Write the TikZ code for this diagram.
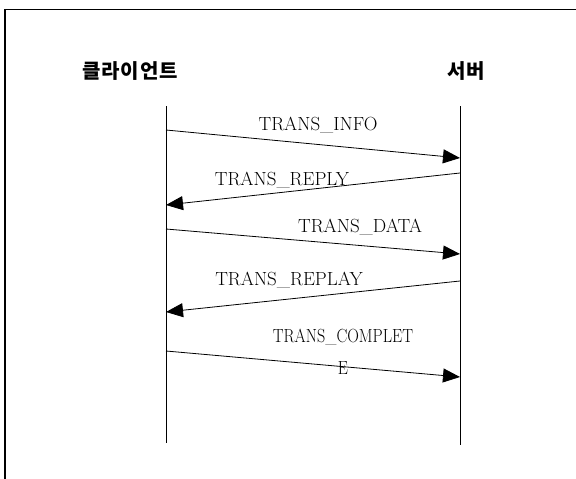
\documentclass[tikz,border=0pt]{standalone}
\usepackage{fontspec}
\newfontfamily\krfont{Noto Sans CJK KR}[LetterSpace=5]
\usetikzlibrary{arrows.meta,positioning}

\begin{document}
\begin{tikzpicture}[
    x=1pt, y=-1pt,
    party/.style={font=\krfont\bfseries\fontsize{20}{24}\selectfont, inner sep=0pt},
    msglabel/.style={font=\fontsize{19}{22}\selectfont, inner sep=0pt},
    life/.style={line width=0.8pt},
    msg/.style={line width=0.8pt, -{Triangle[length=17pt,width=14pt]}},
]
\useasboundingbox (0,0) rectangle (576,479);

% frame (cut at right and bottom)
\draw[line width=1.2pt] (5,479) -- (5,9.5) -- (576,9.5);

% parties
\node[party] (client) at (130,71) {클라이언트};
\node[party] (server) at (466,71) {서버};

% lifelines
\coordinate (ctop) at (166,106);
\coordinate (cbot) at (166,443);
\coordinate (stop) at (460,106);
\coordinate (sbot) at (460,445);
\draw[life] (ctop) -- (cbot);
\draw[life] (stop) -- (sbot);

% message end points
\coordinate (c1) at (166,130); \coordinate (s1) at (460,158);
\coordinate (s2) at (460,173); \coordinate (c2) at (166,205);
\coordinate (c3) at (166,229); \coordinate (s3) at (460,254);
\coordinate (s4) at (460,281); \coordinate (c4) at (166,312);
\coordinate (c5) at (166,351); \coordinate (s5) at (460,377);

% messages
\draw[msg] (c1) -- (s1);
\draw[msg] (s2) -- (c2);
\draw[msg] (c3) -- (s3);
\draw[msg] (s4) -- (c4);
\draw[msg] (c5) -- (s5);

% message labels
\node[msglabel] (info) at (318,125) {TRANS\_INFO};
\node[msglabel] (reply) at (282,180) {TRANS\_REPLY};
\node[msglabel] (data) at (360,227) {TRANS\_DATA};
\node[msglabel] (replay) at (289,280) {TRANS\_REPLAY};
\node[msglabel] (complet) at (343,337) {\scalebox{0.85}[1]{TRANS\_COMPLET}};
\node[msglabel] (complete) at (343,368) {\scalebox{0.85}[1]{E}};

\end{tikzpicture}
\end{document}
